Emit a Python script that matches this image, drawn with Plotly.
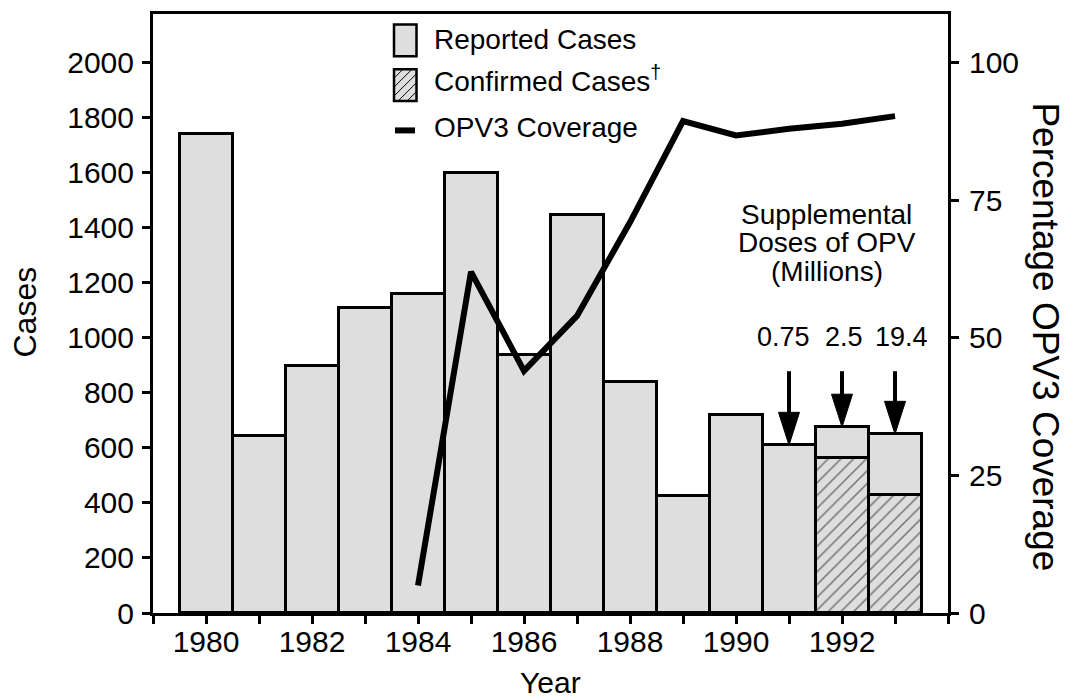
import plotly.graph_objects as go

# ---------------- data ----------------
years = [1980, 1981, 1982, 1983, 1984, 1985, 1986, 1987, 1988, 1989, 1990, 1991, 1992, 1993]
reported_cases = [1740, 642, 898, 1110, 1158, 1600, 938, 1447, 838, 424, 720, 610, 676, 650]

confirmed_years = [1992, 1993]
confirmed_cases = [562, 428]

coverage_years = [1984, 1985, 1986, 1987, 1988, 1989, 1990, 1991, 1992, 1993]
opv3_coverage = [5, 62, 44, 54, 71, 89.4, 86.8, 88, 88.9, 90.3]

dose_years = [1991, 1992, 1993]
dose_labels = ["0.75", "2.5", "19.4"]

x_label_years = [1980, 1982, 1984, 1986, 1988, 1990, 1992]
x_minor_years = [1979, 1981, 1983, 1985, 1987, 1989, 1991, 1993, 1994]
y_ticks = list(range(0, 2001, 200))
y2_ticks = [0, 25, 50, 75, 100]

# ---------------- geometry ----------------
W, H = 1081, 700
ML, MR, MT, MB = 153, 133, 11, 87
PW = W - ML - MR
PH = H - MT - MB
X_RANGE = [1979, 1994]
PX_PER_CASE = 553 / 2000.0
Y_MAX = PH / PX_PER_CASE
Y2_MAX = Y_MAX / 20.0

FONT = "Liberation Sans, Arial, Helvetica, sans-serif"
GRAY = "#dedede"


def pxx(px):
    return (px - ML) / PW


def pxy(py):
    return (MT + PH - py) / PH


fig = go.Figure()

fig.add_trace(go.Bar(
    x=years, y=reported_cases, width=1, name="Reported Cases",
    marker=dict(color=GRAY, line=dict(color="black", width=3)),
    showlegend=False, hoverinfo="x+y",
))
fig.add_trace(go.Bar(
    x=confirmed_years, y=confirmed_cases, width=1, name="Confirmed Cases",
    marker=dict(color=GRAY, line=dict(color="black", width=3),
                pattern=dict(shape="/", fgcolor="black", bgcolor=GRAY, size=9, solidity=0.16)),
    showlegend=False, hoverinfo="x+y",
))
fig.add_trace(go.Scatter(
    x=coverage_years, y=opv3_coverage, yaxis="y2", mode="lines",
    name="OPV3 Coverage", line=dict(color="black", width=6),
    showlegend=False,
))

shapes = []
annotations = []

# arrows for supplemental doses
head_half = 10.5 / (PW / (X_RANGE[1] - X_RANGE[0]))
head_len = 33 / PX_PER_CASE
tail = (613 - 370) / PX_PER_CASE
for yr in dose_years:
    tip = reported_cases[years.index(yr)]
    shapes.append(dict(type="line", xref="x", yref="y", x0=yr, x1=yr,
                       y0=tail, y1=tip + head_len * 0.8,
                       line=dict(color="black", width=4), layer="above"))
    shapes.append(dict(type="path", xref="x", yref="y",
                       path=f"M{yr - head_half},{tip + head_len} L{yr + head_half},{tip + head_len} L{yr},{tip} Z",
                       fillcolor="black", line=dict(color="black", width=1), layer="above"))

for yr, lab, xs in zip(dose_years, dose_labels, [-6, 2, 6]):
    annotations.append(dict(x=yr, y=(613 - 336) / PX_PER_CASE, xref="x", yref="y", text=lab,
                            showarrow=False, xshift=xs, font=dict(size=27, color="black", family=FONT),
                            xanchor="center", yanchor="middle"))

for txt, cy in zip(["Supplemental", "Doses of OPV", "(Millions)"], [213, 241, 269.5]):
    annotations.append(dict(x=pxx(826.5), y=pxy(cy), xref="paper", yref="paper", text=txt,
                            showarrow=False, font=dict(size=28, color="black", family=FONT),
                            xanchor="center", yanchor="middle"))

# manual legend
lx0, lx1 = 394, 416.5
shapes.append(dict(type="rect", xref="paper", yref="paper", x0=pxx(lx0), x1=pxx(lx1),
                   y0=pxy(53.5), y1=pxy(21.5), fillcolor=GRAY, line=dict(color="black", width=2.5)))
ry0, ry1 = 66.5, 98.5
shapes.append(dict(type="rect", xref="paper", yref="paper", x0=pxx(lx0), x1=pxx(lx1),
                   y0=pxy(ry1), y1=pxy(ry0), fillcolor=GRAY, line=dict(color="black", width=2.5)))
k = lx0 + ry0 + 9
while k < lx1 + ry1:
    a = max(lx0, k - ry1)
    b = min(lx1, k - ry0)
    if b > a:
        shapes.append(dict(type="line", xref="paper", yref="paper",
                           x0=pxx(a), y0=pxy(k - a), x1=pxx(b), y1=pxy(k - b),
                           line=dict(color="black", width=1)))
    k += 9
shapes.append(dict(type="line", xref="paper", yref="paper", x0=pxx(395), x1=pxx(415),
                   y0=pxy(128), y1=pxy(128), line=dict(color="black", width=6)))

for txt, cy in zip(["Reported Cases", "Confirmed Cases<sup>†</sup>", "OPV3 Coverage"], [37, 76, 125]):
    annotations.append(dict(x=pxx(432), y=pxy(cy), xref="paper", yref="paper", text=txt,
                            showarrow=False, font=dict(size=28, color="black", family=FONT),
                            xanchor="left", yanchor="middle"))

# axis titles
annotations.append(dict(x=pxx(550), y=pxy(683), xref="paper", yref="paper", text="Year",
                        showarrow=False, font=dict(size=30, color="black", family=FONT),
                        xanchor="center", yanchor="middle"))
annotations.append(dict(x=pxx(25), y=pxy(311), xref="paper", yref="paper", text="Cases",
                        showarrow=False, textangle=-90, font=dict(size=32, color="black", family=FONT),
                        xanchor="center", yanchor="middle"))
annotations.append(dict(x=pxx(1046), y=pxy(335), xref="paper", yref="paper",
                        text="Percentage OPV3 Coverage",
                        showarrow=False, textangle=90, font=dict(size=37, color="black", family=FONT),
                        xanchor="center", yanchor="middle"))

axis_font = dict(size=30, color="black", family=FONT)
fig.update_layout(
    width=W, height=H,
    margin=dict(l=ML, r=MR, t=MT, b=MB, pad=0),
    paper_bgcolor="white", plot_bgcolor="white",
    barmode="overlay", bargap=0,
    font=dict(family=FONT, color="black"),
    xaxis=dict(range=X_RANGE, tickvals=x_label_years,
               ticks="outside", ticklen=8, tickwidth=2.5, tickcolor="black",
               minor=dict(tickvals=x_minor_years, ticks="outside", ticklen=8,
                          tickwidth=2.5, tickcolor="black", showgrid=False),
               showline=True, linecolor="black", linewidth=3, mirror=True,
               showgrid=False, zeroline=False, tickfont=axis_font, ticklabelstandoff=-8),
    yaxis=dict(range=[0, Y_MAX], tickvals=y_ticks,
               ticks="outside", ticklen=8, tickwidth=2.5, tickcolor="black",
               showline=True, linecolor="black", linewidth=3,
               showgrid=False, zeroline=False, tickfont=axis_font, ticklabelstandoff=2),
    yaxis2=dict(range=[0, Y2_MAX], tickvals=y2_ticks, overlaying="y", side="right",
                ticks="outside", ticklen=8, tickwidth=2.5, tickcolor="black",
                showline=True, linecolor="black", linewidth=3,
                showgrid=False, zeroline=False, tickfont=axis_font, ticklabelstandoff=4),
    shapes=shapes, annotations=annotations,
    showlegend=False,
)

fig.write_html("out.html", config={"displayModeBar": False},
               post_script="document.body.style.margin='0px';")
